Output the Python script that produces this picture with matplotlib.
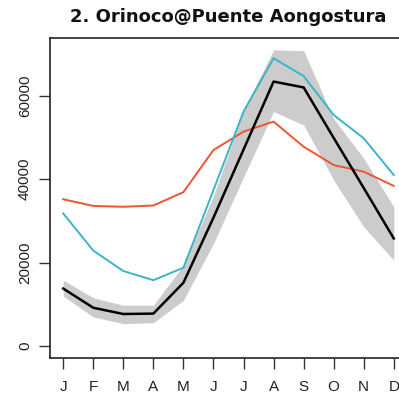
import matplotlib
matplotlib.use('Agg')
import matplotlib.pyplot as plt

months = ['J', 'F', 'M', 'A', 'M', 'J', 'J', 'A', 'S', 'O', 'N', 'D']
month_idx = list(range(1, 13))

# monthly mean flow and its spread
mean_flow = [13800, 9200, 7700, 7800, 15200, 30800, 47100, 63400, 62000, 49900, 37900, 25800]
band_low = [12000, 7000, 5400, 5600, 11000, 24600, 40500, 56200, 53000, 39800, 28600, 20600]
band_high = [15800, 11600, 9800, 9800, 19400, 36000, 56500, 71000, 70800, 54500, 45000, 33400]

# the two comparison series
orange_flow = [35200, 33600, 33400, 33700, 36900, 47000, 51400, 53800, 47800, 43400, 41800, 38400]
blue_flow = [31800, 22900, 18000, 15800, 18800, 37400, 56200, 69000, 64700, 55400, 49800, 41000]

fig = plt.figure(figsize=(3.99, 3.94), dpi=100)
ax = fig.add_axes([50 / 399, 36 / 394, 357 / 399, 320 / 394])

ax.fill_between(month_idx, band_low, band_high, color='#cccccc', lw=0)
ax.plot(month_idx, orange_flow, color='#ee5530', lw=1.4)
ax.plot(month_idx, blue_flow, color='#3ab5c8', lw=1.4)
ax.plot(month_idx, mean_flow, color='black', lw=1.8)

# R style 4% padding
ax.set_xlim(1 - 0.44, 12 + 0.44)
ax.set_ylim(-2840, 71000 + 2840)

ax.set_xticks(month_idx)
ax.set_xticklabels(months, fontsize=11, family='Liberation Sans', color='#222222')
ax.set_yticks([0, 20000, 40000, 60000])
ax.set_yticklabels(['0', '20000', '40000', '60000'], rotation=90, va='center',
                   fontsize=11, family='Liberation Sans', color='#222222')
ax.tick_params(axis='x', length=8, width=1, pad=8, color='#333333')
ax.tick_params(axis='y', length=8, width=1, pad=5, color='#333333')
for s in ax.spines.values():
    s.set_linewidth(1.2)
    s.set_color('#222222')

fig.text(228 / 399, 1 - 17 / 394, '2. Orinoco@Puente Aongostura', ha='center', va='center',
         fontsize=13, fontweight='bold', family='DejaVu Sans', color='#111111')

fig.savefig('out.png', dpi=100)
